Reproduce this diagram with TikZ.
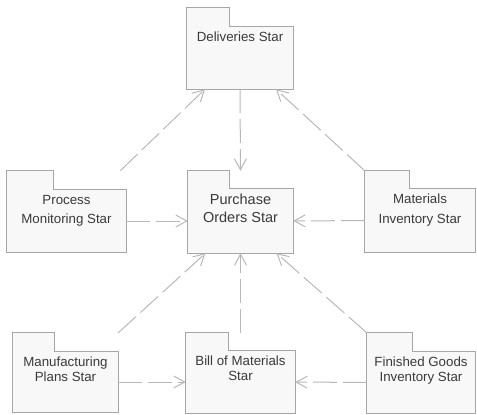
\documentclass[tikz,border=0pt]{standalone}
\usepackage{fontspec}
\setmainfont{Liberation Sans}
\usetikzlibrary{arrows.meta,backgrounds}
\definecolor{pkgline}{HTML}{A6A6A6}
\definecolor{pkgfill}{HTML}{F8F8F8}
\definecolor{pkgfont}{HTML}{3A3A3A}
\definecolor{depline}{HTML}{B8B8B8}
\newcommand{\pkglabel}[3]{\parbox[c][#2pt][t]{#1pt}{\centering\vspace*{5pt}#3}}
\begin{document}
\begin{tikzpicture}[
	x=1pt, y=-1pt,
	block/.style={inner sep=0pt, text=pkgfont, font=\fontsize{13.3}{15}\selectfont},
	wide/.style={font=\fontsize{13.3}{19.5}\selectfont},
	big/.style={font=\fontsize{14.5}{18}\selectfont},
	folder/.style={draw=pkgline, fill=pkgfill, line width=1pt},
	line/.style={depline, line width=1pt, dash pattern=on 24pt off 6pt, -{Straight Barb[length=11pt,width=12pt]}}
	]
	\useasboundingbox (0,0) rectangle (477,415);
	
	% Top package
	\node[block] (del) at (240,58) {\pkglabel{106}{62}{Deliveries Star}};
	
	% Middle row
	\node[block, wide] (pm) at (66.5,221) {\pkglabel{119}{62}{Process\\Monitoring Star}};
	\node[block, big] (po) at (240.5,221) {\pkglabel{105}{64}{Purchase\\Orders Star}};
	\node[block, wide] (mi) at (420,220.5) {\pkglabel{110}{63}{Materials\\Inventory Star}};
	
	% Bottom row
	\node[block] (mfg) at (65.5,382) {\pkglabel{105}{60}{Manufacturing\\Plans Star}};
	\node[block] (bom) at (240.5,382) {\pkglabel{109}{62}{Bill of Materials\\Star}};
	\node[block] (fg) at (421,382.5) {\pkglabel{108}{61}{Finished Goods\\Inventory Star}};
	
	% Folder outlines with tab
	\begin{scope}[on background layer]
		\foreach \n/\w/\h in {del/43/19, po/42/18, pm/47/19, mi/45/18, mfg/42/19, bom/43/18, fg/46/19}
		\draw[folder] (\n.south west) -- ([yshift=\h pt]\n.north west) -- ++(\w,0) -- ++(0,\h) -- (\n.north east) -- (\n.south east) -- cycle;
	\end{scope}
	
	% Dependencies
	\draw[line] (del.south) -- ([yshift=18pt]po.north);
	\draw[line] ([xshift=-6pt,yshift=19pt]pm.north east) -- ([xshift=-35pt]del.south);
	\draw[line] ([yshift=18pt]mi.north west) -- ([xshift=36pt]del.south);
	\draw[line] (pm) -- (po);
	\draw[line] (mi) -- (po);
	\draw[line] ([yshift=19pt]mfg.north east) -- ([xshift=-35pt]po.south);
	\draw[line] ([yshift=18pt]bom.north) -- (po.south);
	\draw[line] ([yshift=19pt]fg.north west) -- ([xshift=36pt]po.south);
	\draw[line] (mfg) -- (bom);
	\draw[line] (fg) -- (bom);
\end{tikzpicture}
\end{document}
